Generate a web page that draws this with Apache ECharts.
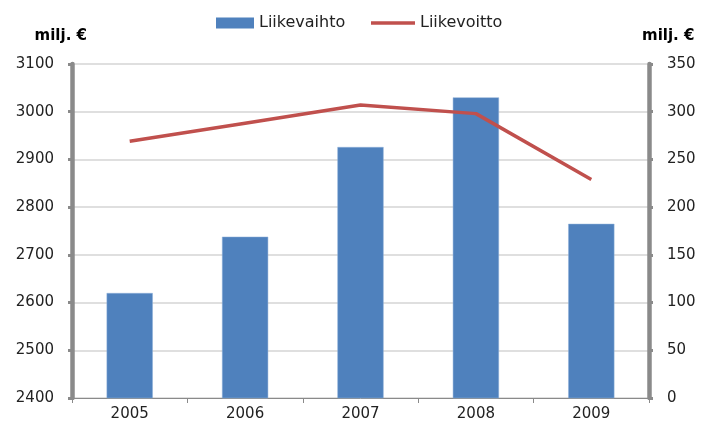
<!DOCTYPE html>
<html lang="fi">
<head>
    <meta charset="UTF-8">
    <title>Liikevaihto ja liikevoitto</title>
    <script src="https://cdn.jsdelivr.net/npm/echarts@6/dist/echarts.min.js"></script>
    <style>
        html, body { margin: 0; padding: 0; background: #fff; }
    </style>
</head>
<body>
    <div id="myCharts" style="width: 702px;height:434px;"></div>

    <script type="text/javascript">
        // data
        var years = ['2005', '2006', '2007', '2008', '2009']
        var liikevaihto = [2620, 2738, 2926, 3030, 2765]   // vasen akseli
        var liikevoitto = [269, 288, 307, 298, 229]        // oikea akseli
        var leftTicks = [2400, 3100, 100]
        var rightTicks = [0, 350, 50]

        var font = 'DejaVu Sans'
        var myChart = echarts.init(document.getElementById('myCharts'))

        var legendText = {
            color: '#222',
            fontFamily: font,
            fontSize: 16,
        }

        var yAxisBase = {
            type: 'value',
            name: 'milj. €',
            nameLocation: 'end',
            nameGap: 20,
            axisLine: {
                show: true,
                lineStyle: { color: '#8a8a8a', width: 4.5 },
            },
            axisTick: {
                show: true,
                length: 4,
                lineStyle: { color: '#8a8a8a', width: 3 },
            },
            axisLabel: {
                color: '#222',
                fontFamily: font,
                fontSize: 15,
                margin: 18,
                formatter: function (v) { return String(v) },
            },
        }
        var nameStyle = {
            color: '#000',
            fontWeight: 'bold',
            fontFamily: font,
            fontSize: 15,
        }

        var option = {
            backgroundColor: '#fff',
            animation: false,
            legend: [
                {
                    top: 15,
                    left: 216,
                    padding: 0,
                    itemWidth: 38,
                    itemHeight: 11,
                    itemStyle: { borderWidth: 0 },
                    textStyle: legendText,
                    data: [{ name: 'Liikevaihto', icon: 'rect' }],
                },
                {
                    top: 15,
                    left: 371,
                    padding: 0,
                    itemWidth: 44,
                    itemHeight: 3.5,
                    itemGap: 0,
                    textStyle: legendText,
                    data: [{ name: 'Liikevoitto', icon: 'rect' }],
                },
            ],
            grid: {
                left: 72,
                right: 53,
                top: 64,
                bottom: 36,
            },
            xAxis: {
                type: 'category',
                data: years,
                boundaryGap: true,
                axisLine: {
                    show: true,
                    lineStyle: { color: '#8a8a8a', width: 1 },
                },
                axisTick: {
                    show: true,
                    length: 5,
                    lineStyle: { color: '#8a8a8a' },
                },
                axisLabel: {
                    color: '#222',
                    fontFamily: font,
                    fontSize: 15,
                    margin: 9,
                },
            },
            yAxis: [
                Object.assign({}, yAxisBase, {
                    position: 'left',
                    min: leftTicks[0],
                    max: leftTicks[1],
                    interval: leftTicks[2],
                    nameTextStyle: Object.assign({}, nameStyle, { align: 'right', padding: [0, -15, 0, 0] }),
                    splitLine: {
                        show: true,
                        lineStyle: { color: '#d4d4d4', width: 1.5 },
                    },
                }),
                Object.assign({}, yAxisBase, {
                    position: 'right',
                    min: rightTicks[0],
                    max: rightTicks[1],
                    interval: rightTicks[2],
                    nameTextStyle: Object.assign({}, nameStyle, { align: 'left', padding: [0, 0, 0, -7] }),
                    splitLine: { show: false },
                }),
            ],
            series: [
                {
                    name: 'Liikevaihto',
                    type: 'bar',
                    yAxisIndex: 0,
                    barWidth: '40%',
                    itemStyle: {
                        color: '#4f81bd',
                        borderColor: '#8fb0d8',
                        borderWidth: 0.5,
                    },
                    data: liikevaihto,
                },
                {
                    name: 'Liikevoitto',
                    type: 'line',
                    yAxisIndex: 1,
                    symbol: 'none',
                    lineStyle: { color: '#c0504d', width: 3.5 },
                    itemStyle: { color: '#c0504d' },
                    data: liikevoitto,
                },
            ],
        }

        myChart.setOption(option)
    </script>
</body>
</html>
